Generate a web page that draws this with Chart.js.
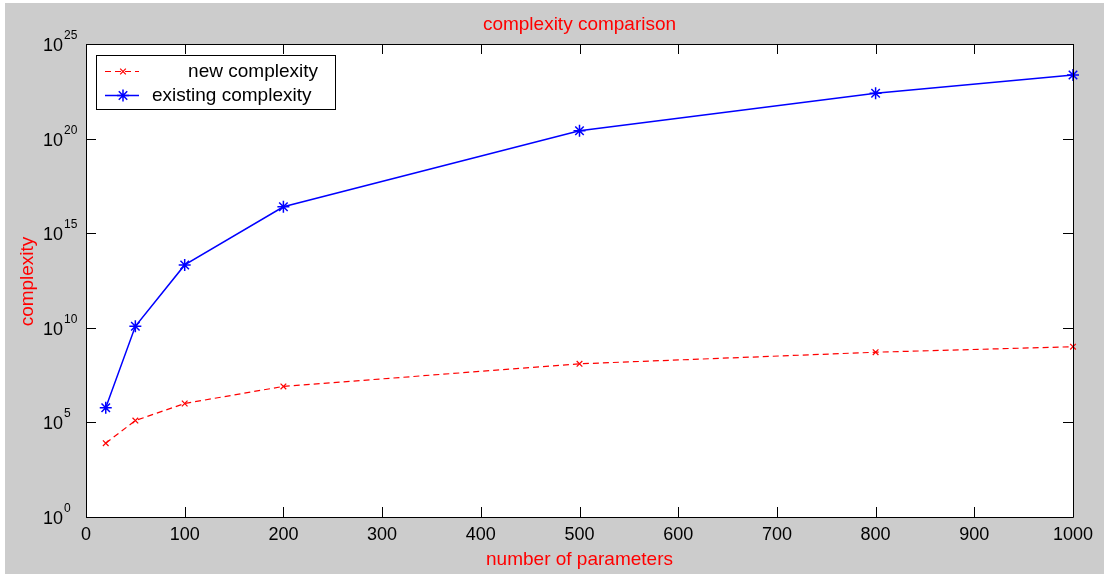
<!DOCTYPE html>
<html>
<head>
<meta charset="utf-8">
<title>complexity comparison</title>
<script src="https://cdn.jsdelivr.net/npm/chart.js@4"></script>
<style>
  html, body { margin: 0; padding: 0; background: #fff; }
  #wrap { width: 1104px; height: 574px; }
</style>
</head>
<body>
<div id="wrap"><canvas id="chart" width="1104" height="574"></canvas></div>
<script>
// ---------------- Data ----------------
const params = [20, 50, 100, 200, 500, 800, 1000];
const newComplexity = [8e3, 1.25e5, 1e6, 8e6, 1.25e8, 5.12e8, 1e9];
const existingComplexity = [6e5, 1.2e10, 2.1e13, 2.5e16, 2.6e20, 2.5e22, 2.3e23];

const xTicks = [0, 100, 200, 300, 400, 500, 600, 700, 800, 900, 1000];
const yExponents = [0, 5, 10, 15, 20, 25];

const chartTitle = "complexity comparison";
const xTitle = "number of parameters";
const yTitle = "complexity";

const FONT = '"Liberation Sans", Arial, sans-serif';
const RED = "#ff0000";
const BLUE = "#0000ff";

// ---------------- Figure decoration ----------------
const matlabFigure = {
  id: "matlabFigure",
  beforeDraw(chart) {
    const ctx = chart.ctx;
    const { left, top, right, bottom } = chart.chartArea;
    ctx.save();
    ctx.fillStyle = "#ffffff";
    ctx.fillRect(0, 0, chart.width, chart.height);
    ctx.fillStyle = "#cccccc";
    ctx.fillRect(5, 3, chart.width - 5, chart.height - 3);
    ctx.fillStyle = "#ffffff";
    ctx.fillRect(left, top, right - left, bottom - top);
    ctx.restore();
  },
  afterDraw(chart) {
    const ctx = chart.ctx;
    const { left, top, right, bottom } = chart.chartArea;
    const xs = chart.scales.x, ys = chart.scales.y;
    ctx.save();

    // box + inward ticks
    ctx.strokeStyle = "#000";
    ctx.lineWidth = 1;
    ctx.beginPath();
    ctx.rect(left + 0.5, top + 0.5, right - left, bottom - top);
    xTicks.forEach(v => {
      const px = Math.round(xs.getPixelForValue(v)) + 0.5;
      ctx.moveTo(px, bottom); ctx.lineTo(px, bottom - 10);
      ctx.moveTo(px, top); ctx.lineTo(px, top + 10);
    });
    yExponents.forEach(e => {
      const py = Math.round(ys.getPixelForValue(Math.pow(10, e))) + 0.5;
      ctx.moveTo(left, py); ctx.lineTo(left + 10, py);
      ctx.moveTo(right, py); ctx.lineTo(right - 10, py);
    });
    ctx.stroke();

    // tick labels
    ctx.fillStyle = "#000";
    ctx.font = "18px " + FONT;
    ctx.textAlign = "center";
    ctx.textBaseline = "alphabetic";
    xTicks.forEach(v => ctx.fillText(String(v), xs.getPixelForValue(v), 540));

    yExponents.forEach(e => {
      const py = ys.getPixelForValue(Math.pow(10, e));
      ctx.font = "18px " + FONT;
      ctx.textAlign = "right";
      ctx.fillText("10", 63, py + 7);
      ctx.font = "12px " + FONT;
      ctx.textAlign = "left";
      ctx.fillText(String(e), 64, py - 5);
    });

    // titles
    ctx.fillStyle = RED;
    ctx.font = "19px " + FONT;
    ctx.textAlign = "center";
    ctx.fillText(chartTitle, (left + right) / 2, 30);
    ctx.fillText(xTitle, (left + right) / 2, 565);
    ctx.save();
    ctx.translate(33, (top + bottom) / 2 + 1);
    ctx.rotate(-Math.PI / 2);
    ctx.fillText(yTitle, 0, 0);
    ctx.restore();

    // legend
    ctx.fillStyle = "#fff";
    ctx.fillRect(96, 55, 239, 54);
    ctx.strokeStyle = "#000";
    ctx.lineWidth = 1;
    ctx.strokeRect(96.5, 55.5, 239, 54);
    chart.data.datasets.forEach((ds, i) => {
      const y = 71 + i * 24;
      const col = i === 0 ? RED : BLUE;
      ctx.save();
      ctx.strokeStyle = col;
      ctx.fillStyle = col;
      ctx.lineWidth = ds.borderWidth;
      ctx.setLineDash(ds.borderDash || []);
      ctx.beginPath();
      ctx.moveTo(105, y + 0.5); ctx.lineTo(139, y + 0.5);
      ctx.stroke();
      ctx.setLineDash([]);
      ctx.lineWidth = ds.pointBorderWidth;
      Chart.helpers.drawPoint(ctx, {
        pointStyle: ds.pointStyle, rotation: 0, radius: ds.pointRadius, borderWidth: ds.pointBorderWidth
      }, 123, y + 0.5);
      ctx.restore();
      ctx.fillStyle = "#000";
      ctx.font = "19px " + FONT;
      ctx.textBaseline = "middle";
      if (i === 0) { ctx.textAlign = "right"; ctx.fillText(ds.label, 318, y + 1); }
      else { ctx.textAlign = "left"; ctx.fillText(ds.label, 152, y + 1); }
    });
    ctx.restore();
  }
};

// ---------------- Chart ----------------
const ctx = document.getElementById("chart").getContext("2d");
new Chart(ctx, {
  type: "line",
  data: {
    datasets: [
      {
        label: "new complexity",
        data: params.map((p, i) => ({ x: p, y: newComplexity[i] })),
        borderColor: RED,
        borderWidth: 1.2,
        borderDash: [6, 4],
        pointStyle: "crossRot",
        pointRadius: 4,
        pointBorderColor: RED,
        pointBackgroundColor: RED,
        pointBorderWidth: 1.2,
        tension: 0
      },
      {
        label: "existing complexity",
        data: params.map((p, i) => ({ x: p, y: existingComplexity[i] })),
        borderColor: BLUE,
        borderWidth: 1.5,
        pointStyle: "star",
        pointRadius: 6,
        pointBorderColor: BLUE,
        pointBackgroundColor: BLUE,
        pointBorderWidth: 1.5,
        tension: 0
      }
    ]
  },
  options: {
    responsive: false,
    animation: false,
    clip: false,
    layout: { padding: { left: 86, top: 44, right: 31, bottom: 57 } },
    plugins: { legend: { display: false }, tooltip: { enabled: false }, title: { display: false } },
    scales: {
      x: { type: "linear", min: 0, max: 1000, display: false },
      y: { type: "logarithmic", min: 1, max: 1e25, display: false }
    }
  },
  plugins: [matlabFigure]
});
</script>
</body>
</html>
